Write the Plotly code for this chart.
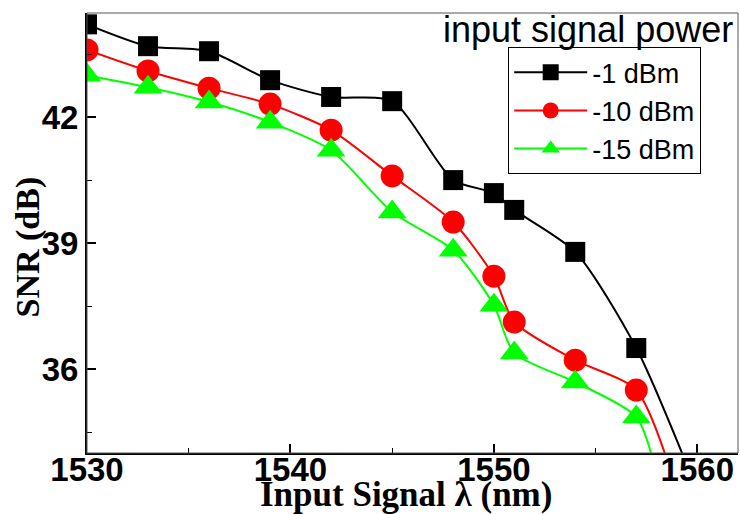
import plotly.graph_objects as go

# wavelengths (nm)
wl = [1530, 1533, 1536, 1539, 1542, 1545, 1548, 1550, 1551, 1554, 1557]

snr_m1 = [44.21, 43.69, 43.57, 42.88, 42.48, 42.38, 40.50, 40.19, 39.79, 38.79, 36.50]
snr_m10 = [43.60, 43.10, 42.69, 42.31, 41.69, 40.60, 39.50, 38.21, 37.12, 36.21, 35.50]
snr_m15 = [43.00, 42.71, 42.36, 41.88, 41.21, 39.74, 38.83, 37.52, 36.38, 35.69, 34.86]

# curve continuation beyond the last measured point (runs below the axis)
tail_wl = {"m1": 1560, "m10": 1559, "m15": 1558}
tail_snr = {"m1": 33.1, "m10": 33.1, "m15": 33.5}

names = ["-1 dBm", "-10 dBm", "-15 dBm"]
x_ticks = [1530, 1540, 1550, 1560]
y_ticks = [36, 39, 42]

series = [
    ("m1", snr_m1, "#000000", "square", 20),
    ("m10", snr_m10, "#ff0000", "circle", 23),
    ("m15", snr_m15, "#00ff00", "triangle-up", 25),
]

fig = go.Figure()
for (key, ys, col, sym, sz), nm in zip(series, names):
    xs = wl + [tail_wl[key]]
    yv = ys + [tail_snr[key]]
    fig.add_trace(go.Scatter(
        x=xs, y=yv, name=nm, mode="lines+markers",
        line=dict(color=col, width=2, shape="spline", smoothing=0.7),
        marker=dict(color=col, symbol=sym, size=sz, line=dict(width=0)),
        cliponaxis=True,
    ))

tickfont = dict(family="Liberation Sans", size=33, color="black")

fig.update_layout(
    width=740, height=514,
    margin=dict(l=87, r=2, t=13, b=61),
    paper_bgcolor="white", plot_bgcolor="white",
    font=dict(family="Liberation Sans", color="black"),
    showlegend=True,
    legend=dict(
        x=0.647, y=0.922, xanchor="left", yanchor="top",
        bgcolor="white", bordercolor="black", borderwidth=1,
        font=dict(family="Liberation Sans", size=27, color="black"),
        itemwidth=73, tracegroupgap=0,
    ),
    xaxis=dict(
        range=[1530, 1562], tickmode="array", tickvals=x_ticks,
        ticktext=["<b>%d</b>" % v for v in x_ticks],
        ticks="inside", ticklen=9, tickwidth=1.5, tickcolor="black",
        showline=True, linecolor="black", linewidth=2, mirror=False,
        showgrid=False, zeroline=False, ticklabelstandoff=-14,
        tickfont=tickfont,
        minor=dict(dtick=5, tick0=1530, ticks="inside", ticklen=5, tickwidth=1, tickcolor="black"),
    ),
    yaxis=dict(
        range=[34, 44.48], tickmode="array", tickvals=y_ticks,
        ticktext=["<b>%d</b>" % v for v in y_ticks],
        ticks="inside", ticklen=9, tickwidth=1.5, tickcolor="black",
        showline=True, linecolor="black", linewidth=2, mirror=False,
        showgrid=False, zeroline=False,
        tickfont=tickfont,
        minor=dict(dtick=1.5, tick0=34.5, ticks="inside", ticklen=5, tickwidth=1, tickcolor="black"),
    ),
    shapes=[dict(type="rect", xref="paper", yref="paper", x0=0, x1=1, y0=0, y1=1,
                 line=dict(color="#555555", width=1), layer="above")],
    annotations=[
        dict(text="input signal power", xref="paper", yref="paper",
             x=0.544, y=0.963, xanchor="left", yanchor="middle", showarrow=False,
             font=dict(family="Liberation Sans", size=36, color="black")),
        dict(text="<b>Input Signal λ (nm)</b>", xref="paper", yref="paper",
             x=0.49, y=-0.094, xanchor="center", yanchor="middle", showarrow=False,
             font=dict(family="Liberation Serif", size=35, color="black")),
        dict(text="<b>SNR (dB)</b>", xref="paper", yref="paper", textangle=-90,
             x=-0.09, y=0.468, xanchor="center", yanchor="middle", showarrow=False,
             font=dict(family="Liberation Serif", size=34, color="black")),
    ],
)

fig.write_html("out.html")
